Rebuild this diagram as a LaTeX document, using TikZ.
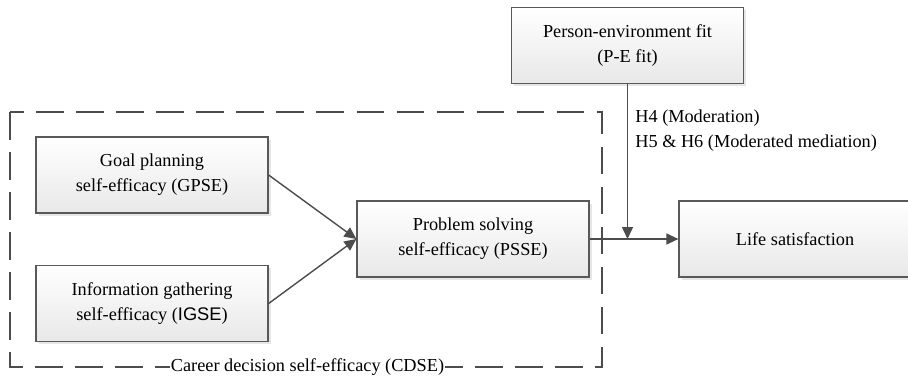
\documentclass[tikz,border=0pt]{standalone}
\usepackage{fontspec}
\setmainfont{Liberation Serif}
\setsansfont{Liberation Sans}
\usetikzlibrary{arrows.meta,shadows}

\tikzset{
  varbox/.style={draw=black!65,line width=0.7pt,top color=white,bottom color=black!9,
    minimum width=4.64cm,minimum height=1.52cm,align=center,
    drop shadow={shadow xshift=0.05cm,shadow yshift=-0.05cm,opacity=0.2}},
  link/.style={draw=black!70,line width=0.8pt,-{Triangle[length=0.24cm,width=0.22cm]}},
}

\begin{document}
\begin{tikzpicture}[font=\fontsize{10.4}{14.2}\selectfont]
\useasboundingbox (0,0) rectangle (18.16,7.58);
% CDSE frame
\draw[black!70,line width=0.8pt,dash pattern=on 0.55cm off 0.25cm](0.2,5.34) rectangle (12.04,0.24);
\node[fill=white,inner sep=0.5pt] (cdse) at (6.15,0.24) {Career decision self-efficacy (CDSE)};
% variables
\node[varbox] (pef) at (12.55,6.67) {Person-environment fit\\(P-E fit)};
\node[varbox] (gpse) at (3.04,4.08) {Goal planning\\self-efficacy (GPSE)};
\node[varbox] (igse) at (3.04,1.51) {Information gathering\\self-efficacy ({\sffamily IGSE})};
\node[varbox] (psse) at (9.46,2.80) {Problem solving\\self-efficacy (PSSE)};
\node[varbox] (life) at (15.9,2.80) {Life satisfaction};
\coordinate (mod) at (pef.south |- psse.east);
% paths
\draw[link](gpse.east)--(psse.west);
\draw[link](igse.east)--(psse.west);
\draw[link](psse.east)--(life.west);
\draw[link](pef.south)--(mod);
\node[anchor=west,align=left,inner sep=0] (hyp) at (12.7,4.96) {H4 (Moderation)\\H5 \& H6 (Moderated mediation)};
\end{tikzpicture}
\end{document}
